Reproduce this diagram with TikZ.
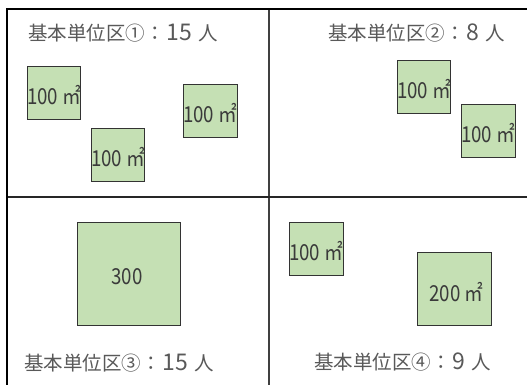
\documentclass[tikz,border=0pt]{standalone}
\usepackage{fontspec}
\setmainfont{Noto Sans CJK JP}
\newfontfamily\numfont[FakeStretch=0.85]{Noto Sans CJK JP}
\definecolor{lotgreen}{HTML}{C5E0B4}
\definecolor{titlegray}{HTML}{595959}
\definecolor{numgray}{HTML}{3A3A3A}
\newcommand{\colsp}{：\hspace{2pt}}
\newcommand{\ninsp}{\hspace{6pt}}
\newcommand{\dg}[1]{{\fontsize{23}{23}\selectfont #1}}
\begin{document}
\begin{tikzpicture}[x=1pt,y=-1pt,
  lot/.style={draw=black!80, line width=0.8pt, fill=lotgreen, inner sep=0pt,
    minimum width=53pt, minimum height=53pt, anchor=north west},
  lbl/.style={text=numgray, font=\numfont\fontsize{22}{22}\selectfont, inner sep=0pt, anchor=west},
  ttl/.style={text=titlegray, font=\fontsize{19.5}{20}\selectfont, inner sep=0pt, anchor=west},
  frame/.style={line width=2.5pt, black},
  divider/.style={line width=1.5pt, black!75}]
\useasboundingbox (0,0) rectangle (527,385);
\fill[white] (0,0) rectangle (527,385);
% dividers
\draw[divider] (269,9) -- (269,385);
\draw[divider, black!85] (7,197) -- (527,197);
% frame
\draw[frame] (7,385) -- (7,9) -- (527,9);
% titles
\node[ttl] (t1) at (28,33) {基本単位区①\colsp\dg{15}\ninsp 人};
\node[ttl] (t2) at (328,33) {基本単位区②\colsp\dg{8}\ninsp 人};
\node[ttl] (t3) at (24,363) {基本単位区③\colsp\dg{15}\ninsp 人};
\node[ttl] (t4) at (314,362) {基本単位区④\colsp\dg{9}\ninsp 人};
% lots
\node[lot] (a) at (27,66) {};
\node[lot] (b) at (91,128) {};
\node[lot, minimum width=54pt] (c) at (183,84) {};
\node[lot] (d) at (397,60) {};
\node[lot, minimum width=54pt] (e) at (461,104) {};
\node[lot, minimum width=103pt, minimum height=103pt] (f) at (77,222) {};
\node[lot, minimum width=54pt] (g) at (289,222) {};
\node[lot, minimum width=74pt, minimum height=73pt] (h) at (417,252) {};
% labels
\node[lbl] (la) at ([yshift=-2.5pt]a.west) {100 ㎡};
\node[lbl] (lb) at ([yshift=-2.5pt]b.west) {100 ㎡};
\node[lbl] (lc) at ([yshift=-2.5pt]c.west) {100 ㎡};
\node[lbl] (ld) at ([yshift=-2.5pt]d.west) {100 ㎡};
\node[lbl] (le) at ([yshift=-2.5pt]e.west) {100 ㎡};
\node[lbl] (lg) at ([yshift=-2.5pt]g.west) {100 ㎡};
\node[lbl, anchor=center] (lf) at (127,277) {300};
\node[lbl, anchor=center] (lh) at (456.5,292) {200 ㎡};
\end{tikzpicture}
\end{document}
